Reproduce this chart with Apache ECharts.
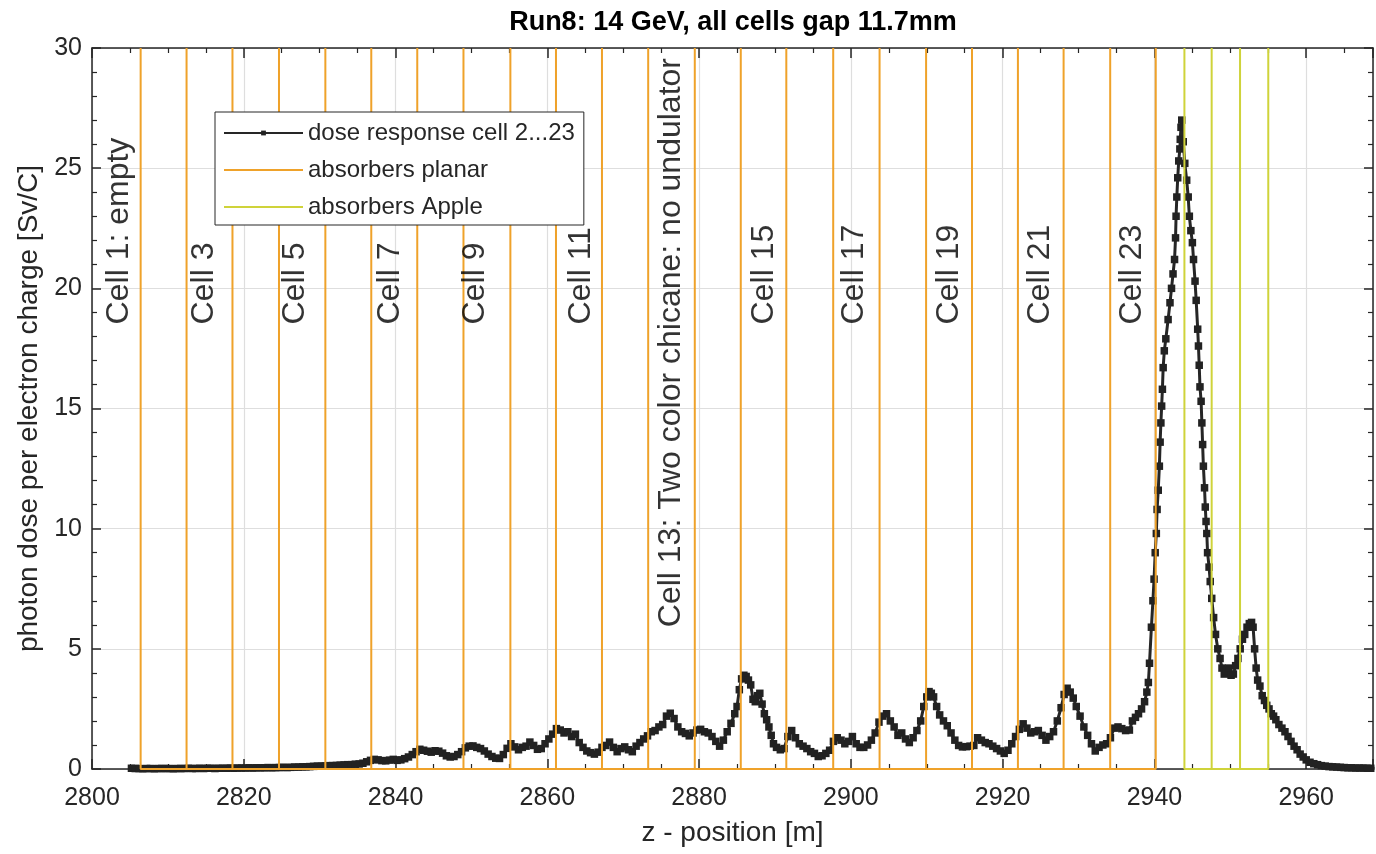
<!DOCTYPE html>
<html>
<head>
<meta charset="utf-8">
<title>Run8: 14 GeV, all cells gap 11.7mm</title>
<script src="https://cdn.jsdelivr.net/npm/echarts/dist/echarts.min.js"></script>
<style>
  html, body { margin: 0; padding: 0; background: #fff; }
  #chart { width: 1376px; height: 854px; }
</style>
</head>
<body>
<div id="chart"></div>
<script>
// dose response, [z position (m), photon dose per electron charge (Sv/C)]
const dosePoints = [
  [2805.2, 0.03], [2805.7, 0.02], [2806.2, 0.02], [2806.7, 0.01], [2807.2, 0.02], [2807.7, 0.02],
  [2808.2, 0.01], [2808.7, 0.02], [2809.2, 0.02], [2809.7, 0.02], [2810.2, 0.02], [2810.7, 0.01],
  [2811.2, 0.02], [2811.7, 0.02], [2812.2, 0.02], [2812.7, 0.03], [2813.2, 0.02], [2813.7, 0.02],
  [2814.2, 0.03], [2814.7, 0.02], [2815.2, 0.03], [2815.7, 0.03], [2816.2, 0.02], [2816.7, 0.03],
  [2817.2, 0.03], [2817.7, 0.03], [2818.2, 0.04], [2818.7, 0.03], [2819.2, 0.04], [2819.7, 0.04],
  [2820.2, 0.04], [2820.7, 0.05], [2821.2, 0.04], [2821.7, 0.05], [2822.2, 0.05], [2822.7, 0.05],
  [2823.2, 0.06], [2823.7, 0.05], [2824.2, 0.06], [2824.7, 0.06], [2825.2, 0.07], [2825.7, 0.06],
  [2826.2, 0.07], [2826.7, 0.08], [2827.2, 0.08], [2827.7, 0.09], [2828.2, 0.09], [2828.7, 0.1],
  [2829.2, 0.11], [2829.7, 0.12], [2830.2, 0.12], [2830.7, 0.13], [2831.2, 0.14], [2831.7, 0.14],
  [2832.2, 0.15], [2832.7, 0.16], [2833.2, 0.17], [2833.7, 0.18], [2834.2, 0.18], [2834.7, 0.2],
  [2835.2, 0.21], [2835.7, 0.24], [2836.2, 0.3], [2836.7, 0.36], [2837.2, 0.4], [2837.7, 0.38],
  [2838.2, 0.35], [2838.7, 0.34], [2839.2, 0.37], [2839.7, 0.4], [2840.2, 0.36], [2840.7, 0.38],
  [2841.2, 0.43], [2841.7, 0.5], [2842.2, 0.6], [2842.7, 0.72], [2843.2, 0.82], [2843.7, 0.78],
  [2844.2, 0.74], [2844.7, 0.7], [2845.2, 0.76], [2845.7, 0.74], [2846.2, 0.66], [2846.7, 0.55],
  [2847.2, 0.5], [2847.7, 0.52], [2848.2, 0.6], [2848.7, 0.72], [2849.2, 0.88], [2849.7, 0.95],
  [2850.2, 0.96], [2850.7, 0.9], [2851.2, 0.85], [2851.7, 0.75], [2852.2, 0.62], [2852.7, 0.52],
  [2853.2, 0.45], [2853.7, 0.44], [2854.2, 0.6], [2854.7, 0.86], [2855.2, 1.05], [2855.7, 0.92],
  [2856.2, 0.8], [2856.7, 0.9], [2857.2, 0.95], [2857.7, 1.12], [2858.2, 0.98], [2858.7, 0.82],
  [2859.2, 0.85], [2859.7, 1.05], [2860.2, 1.25], [2860.7, 1.45], [2861.2, 1.68], [2861.7, 1.62],
  [2862.2, 1.5], [2862.7, 1.55], [2863.2, 1.35], [2863.7, 1.45], [2864.2, 1.1], [2864.7, 0.9],
  [2865.2, 0.75], [2865.7, 0.68], [2866.2, 0.62], [2866.7, 0.7], [2867.2, 0.9], [2867.7, 0.98],
  [2868.2, 1.12], [2868.7, 0.9], [2869.2, 0.72], [2869.7, 0.85], [2870.2, 0.92], [2870.7, 0.8],
  [2871.2, 0.72], [2871.7, 0.95], [2872.2, 1.1], [2872.7, 1.25], [2873.2, 1.38], [2873.7, 1.55],
  [2874.2, 1.6], [2874.7, 1.75], [2875.2, 1.85], [2875.7, 2.2], [2876.2, 2.32], [2876.7, 2.1],
  [2877.2, 1.75], [2877.7, 1.55], [2878.2, 1.48], [2878.7, 1.38], [2879.2, 1.5], [2879.7, 1.62],
  [2880.2, 1.65], [2880.7, 1.55], [2881.2, 1.5], [2881.7, 1.35], [2882.2, 1.15], [2882.7, 0.95],
  [2883.2, 1.2], [2883.7, 1.55], [2884.2, 1.9], [2884.7, 2.3], [2885.0, 2.6], [2885.3, 3.3],
  [2885.6, 3.75], [2885.9, 3.9], [2886.2, 3.85], [2886.5, 3.7], [2886.8, 3.5], [2887.1, 2.9],
  [2887.4, 2.8], [2887.7, 3.05], [2888.0, 3.15], [2888.3, 2.7], [2888.6, 2.3], [2888.9, 2.05],
  [2889.2, 1.75], [2889.5, 1.4], [2889.8, 1.05], [2890.2, 0.9], [2890.7, 0.8], [2891.2, 0.85],
  [2891.7, 1.35], [2892.2, 1.6], [2892.7, 1.3], [2893.2, 1.05], [2893.7, 0.95], [2894.2, 0.85],
  [2894.7, 0.72], [2895.2, 0.65], [2895.7, 0.52], [2896.2, 0.55], [2896.7, 0.65], [2897.2, 0.78],
  [2897.7, 1.15], [2898.2, 1.3], [2898.7, 1.2], [2899.2, 1.05], [2899.7, 1.15], [2900.2, 1.35],
  [2900.7, 1.05], [2901.2, 0.9], [2901.7, 0.9], [2902.2, 1.0], [2902.7, 1.2], [2903.2, 1.5],
  [2903.7, 1.95], [2904.2, 2.2], [2904.7, 2.3], [2905.2, 2.0], [2905.7, 1.75], [2906.2, 1.4],
  [2906.7, 1.5], [2907.2, 1.25], [2907.7, 1.1], [2908.2, 1.3], [2908.7, 1.6], [2909.2, 2.0],
  [2909.6, 2.6], [2910.0, 3.0], [2910.3, 3.22], [2910.6, 3.15], [2910.9, 3.0], [2911.3, 2.6],
  [2911.7, 2.25], [2912.2, 2.0], [2912.7, 1.8], [2913.2, 1.5], [2913.7, 1.2], [2914.2, 0.98],
  [2914.7, 0.92], [2915.2, 0.93], [2915.7, 0.95], [2916.2, 0.98], [2916.7, 1.3], [2917.2, 1.2],
  [2917.7, 1.1], [2918.2, 1.05], [2918.7, 0.95], [2919.2, 0.85], [2919.7, 0.75], [2920.2, 0.65],
  [2920.7, 0.78], [2921.2, 1.05], [2921.7, 1.35], [2922.2, 1.65], [2922.7, 1.88], [2923.2, 1.7],
  [2923.7, 1.5], [2924.2, 1.55], [2924.7, 1.6], [2925.2, 1.4], [2925.7, 1.2], [2926.2, 1.35],
  [2926.7, 1.55], [2927.2, 2.0], [2927.7, 2.55], [2928.1, 3.1], [2928.5, 3.36], [2928.9, 3.2],
  [2929.3, 2.95], [2929.7, 2.6], [2930.2, 2.2], [2930.7, 1.75], [2931.2, 1.4], [2931.7, 1.05],
  [2932.2, 0.75], [2932.7, 0.9], [2933.2, 1.0], [2933.7, 1.05], [2934.2, 1.3], [2934.7, 1.7],
  [2935.2, 1.75], [2935.7, 1.68], [2936.2, 1.6], [2936.7, 1.62], [2937.1, 2.0], [2937.5, 2.15],
  [2937.9, 2.3], [2938.3, 2.5], [2938.7, 2.8], [2939.0, 3.2], [2939.2, 3.6], [2939.35, 4.4],
  [2939.6, 5.9], [2939.8, 7.0], [2939.95, 7.9], [2940.1, 9.0], [2940.25, 9.8], [2940.35, 10.8],
  [2940.5, 11.6], [2940.65, 12.6], [2940.75, 13.6], [2940.85, 14.4], [2940.95, 15.1], [2941.05, 15.8],
  [2941.15, 16.7], [2941.3, 17.4], [2941.5, 17.9], [2941.8, 18.7], [2942.05, 19.4], [2942.25, 20.0],
  [2942.45, 20.6], [2942.65, 21.2], [2942.78, 22.1], [2942.85, 23.0], [2942.95, 23.8], [2943.07, 24.6],
  [2943.2, 25.3], [2943.35, 25.8], [2943.4, 26.2], [2943.5, 26.7], [2943.6, 27.0], [2943.8, 26.1],
  [2944.0, 25.2], [2944.25, 24.5], [2944.45, 23.8], [2944.6, 23.0], [2944.8, 22.4], [2945.0, 21.9],
  [2945.15, 21.2], [2945.35, 20.3], [2945.5, 19.5], [2945.7, 18.3], [2945.8, 17.6], [2945.9, 16.8],
  [2946.0, 15.9], [2946.15, 15.3], [2946.25, 14.4], [2946.35, 13.5], [2946.45, 12.6], [2946.6, 11.7],
  [2946.7, 10.9], [2946.8, 10.3], [2946.9, 9.8], [2947.0, 9.0], [2947.2, 8.4], [2947.35, 7.8],
  [2947.55, 7.1], [2947.8, 6.3], [2948.05, 5.6], [2948.35, 5.0], [2948.65, 4.6], [2948.9, 4.2],
  [2949.2, 3.95], [2949.5, 4.1], [2949.8, 4.2], [2950.1, 3.9], [2950.4, 3.95], [2950.7, 4.3],
  [2951.0, 4.6], [2951.3, 5.0], [2951.6, 5.4], [2951.9, 5.6], [2952.2, 5.9], [2952.5, 6.05],
  [2952.8, 6.1], [2953.0, 5.9], [2953.2, 5.0], [2953.4, 4.2], [2953.6, 3.7], [2953.9, 3.45],
  [2954.2, 3.05], [2954.5, 2.85], [2954.8, 2.65], [2955.1, 2.5], [2955.4, 2.3], [2955.7, 2.2],
  [2956.0, 2.05], [2956.4, 1.85], [2956.8, 1.7], [2957.2, 1.55], [2957.6, 1.35], [2958.0, 1.15],
  [2958.4, 0.95], [2958.8, 0.8], [2959.2, 0.62], [2959.6, 0.5], [2960.0, 0.38], [2960.5, 0.28],
  [2961.0, 0.22], [2961.5, 0.18], [2962.0, 0.14], [2962.5, 0.12], [2963.0, 0.1], [2963.5, 0.09],
  [2964.0, 0.08], [2964.5, 0.07], [2965.0, 0.06], [2965.5, 0.05], [2966.0, 0.05], [2966.5, 0.04],
  [2967.0, 0.04], [2967.5, 0.04], [2968.0, 0.03], [2968.5, 0.03], [2969.0, 0.03]
];

// absorber positions (m)
const planarAbsorbers = [
  2806.41, 2812.46, 2818.51, 2824.64, 2830.75, 2836.80, 2842.86, 2848.95, 2855.13, 2861.14,
  2867.20, 2873.29, 2879.43, 2885.49, 2891.49, 2897.67, 2903.78, 2909.91, 2915.96, 2922.01,
  2928.03, 2934.17, 2940.17
];
const appleAbsorbers = [2943.95, 2947.54, 2951.28, 2955.0];

// cell annotations
const cellLabelText = [
  'Cell 1: empty', 'Cell 3', 'Cell 5', 'Cell 7', 'Cell 9', 'Cell 11',
  'Cell 13: Two color chicane: no undulator', 'Cell 15', 'Cell 17', 'Cell 19', 'Cell 21', 'Cell 23'
];
const cellLabelZ = [2803.6, 2814.8, 2826.8, 2839.3, 2850.5, 2864.5, 2876.3, 2888.6, 2900.4, 2912.9, 2925.0, 2937.0];
const cellLabelY = [18.5, 18.5, 18.5, 18.5, 18.5, 18.5, 5.9, 18.5, 18.5, 18.5, 18.5, 18.5];

const xMin = 2800, xMax = 2968.8, xStep = 20;
const yMin = 0, yMax = 30, yStep = 5;

const font = 'Liberation Sans, Arial, Helvetica, sans-serif';
const ink = '#262626';
const orange = '#EFA22A';
const apple = '#CFD33A';

// absorbers as one polyline: up and back down at each position, joined along the bottom
function absorberLine(positions) {
  const pts = [];
  positions.forEach(function (p) {
    pts.push([p, yMin], [p, yMax], [p, yMin]);
  });
  return pts;
}

const cellLabels = cellLabelText.map(function (t, i) {
  return { name: t, value: [cellLabelZ[i], cellLabelY[i]] };
});

const chart = echarts.init(document.getElementById('chart'));

const xCommon = {
  type: 'value', min: xMin, max: xMax, interval: xStep,
  axisLine: { show: true, onZero: false, lineStyle: { color: ink, width: 1.5 } },
  axisTick: { show: true, inside: true, length: 10, lineStyle: { color: ink, width: 1.5 } },
  minorTick: { show: true, splitNumber: 4, length: 5, lineStyle: { color: ink, width: 1.2 } }
};
const yCommon = {
  type: 'value', min: yMin, max: yMax, interval: yStep,
  axisLine: { show: true, onZero: false, lineStyle: { color: ink, width: 1.5 } },
  axisTick: { show: true, inside: true, length: 9, lineStyle: { color: ink, width: 1.5 } },
  minorTick: { show: true, splitNumber: 5, length: 5, lineStyle: { color: ink, width: 1.2 } }
};

const option = {
  animation: false,
  backgroundColor: '#fff',
  textStyle: { fontFamily: font },
  title: {
    text: 'Run8: 14 GeV, all cells gap 11.7mm',
    left: 733, top: 9, textAlign: 'center', padding: 0,
    textStyle: { fontFamily: font, fontSize: 27, fontWeight: 'bold', color: '#000' }
  },
  grid: { left: 92, top: 48, right: 1, bottom: 85 },
  legend: {
    orient: 'vertical', left: 215, top: 112, align: 'left',
    padding: [9, 9, 6, 8], itemGap: 13, itemWidth: 79, itemHeight: 6,
    backgroundColor: '#fff', borderColor: ink, borderWidth: 1, borderRadius: 0,
    textStyle: { fontFamily: font, fontSize: 24, lineHeight: 24, color: ink },
    selectedMode: false,
    data: [
      { name: 'dose response cell 2...23', lineStyle: { width: 2 }, itemStyle: { color: '#222' } },
      { name: 'absorbers planar', icon: 'path://M0,0H40V1H0Z' },
      { name: 'absorbers Apple', icon: 'path://M0,0H40V1H0Z' }
    ]
  },
  xAxis: [
    Object.assign({}, xCommon, {
      position: 'bottom',
      name: 'z - position [m]', nameLocation: 'middle', nameGap: 50,
      nameTextStyle: { fontFamily: font, fontSize: 28, color: ink },
      axisLabel: {
        margin: 17, fontFamily: font, fontSize: 25, color: ink,
        formatter: function (v) { return v % xStep === 0 ? String(v) : ''; }
      },
      splitLine: { show: true, lineStyle: { color: '#dedede', width: 1.2 } }
    }),
    Object.assign({}, xCommon, {
      position: 'top', axisLabel: { show: false }, splitLine: { show: false }
    })
  ],
  yAxis: [
    Object.assign({}, yCommon, {
      position: 'left',
      name: 'photon dose per electron charge [Sv/C]', nameLocation: 'middle', nameGap: 47,
      nameTextStyle: { fontFamily: font, fontSize: 28, color: ink },
      axisLabel: { margin: 10, fontFamily: font, fontSize: 25, color: ink },
      splitLine: { show: true, lineStyle: { color: '#dedede', width: 1.2 } }
    }),
    Object.assign({}, yCommon, {
      position: 'right', axisLabel: { show: false }, splitLine: { show: false }
    })
  ],
  series: [
    {
      name: 'dose response cell 2...23',
      type: 'line', xAxisIndex: 0, yAxisIndex: 0,
      data: dosePoints,
      color: '#222',
      symbol: 'rect', symbolSize: 7.5, showSymbol: true,
      lineStyle: { color: '#262626', width: 3 },
      itemStyle: { color: '#222' },
      z: 2
    },
    {
      name: 'absorbers planar',
      type: 'line', xAxisIndex: 0, yAxisIndex: 0,
      data: absorberLine(planarAbsorbers),
      color: orange, symbol: 'none',
      lineStyle: { color: orange, width: 2 },
      z: 3
    },
    {
      name: 'absorbers Apple',
      type: 'line', xAxisIndex: 0, yAxisIndex: 0,
      data: absorberLine(appleAbsorbers),
      color: apple, symbol: 'none',
      lineStyle: { color: apple, width: 2 },
      z: 3
    },
    {
      type: 'scatter', xAxisIndex: 0, yAxisIndex: 0,
      data: cellLabels,
      symbolSize: 0.1,
      itemStyle: { color: 'transparent' },
      silent: true,
      label: {
        show: true, position: 'inside', formatter: '{b}',
        rotate: 90, align: 'left', verticalAlign: 'middle',
        fontFamily: font, fontSize: 32, color: '#000'
      },
      z: 4
    }
  ]
};

chart.setOption(option);
</script>
</body>
</html>
